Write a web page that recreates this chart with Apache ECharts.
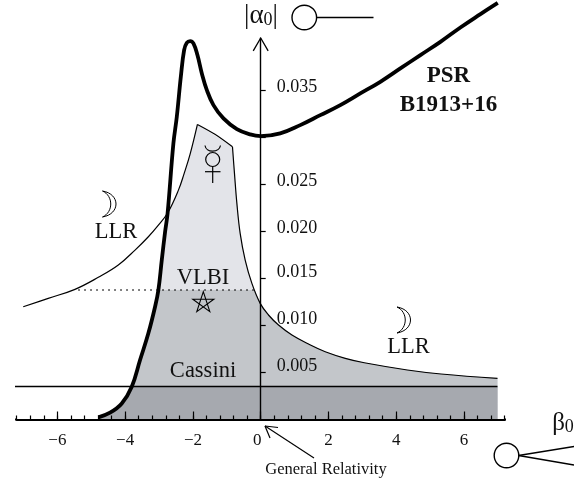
<!DOCTYPE html>
<html><head><meta charset="utf-8">
<style>html,body{margin:0;padding:0;background:#fff}#c{width:574px;height:487px}</style>
<script src="https://cdn.jsdelivr.net/npm/echarts@6/dist/echarts.min.js"></script>
</head><body><div id="c"></div>
<script>
const psrBeta =[-4.792,-4.446,-4.1,-3.805,-3.56,-3.315,-3.117,-3.019,-2.919,-2.821,-2.747,-2.576,-2.476,-2.357,-2.26,-2.18,-2.083,-1.985,-1.867,-1.737,-1.589,-1.394,-1.099,-0.703,-0.31,0,0.576,1.167,1.758,2.349,2.939,3.53,4.121,4.712,5.303,5.893,6.484,6.995];
const psrAlpha=[0.00023,0.00072,0.0017,0.00349,0.00633,0.00917,0.012,0.01378,0.01697,0.01998,0.02197,0.02938,0.03221,0.03647,0.03931,0.04009,0.04027,0.04002,0.03878,0.03683,0.03505,0.03346,0.03204,0.0309,0.03034,0.03016,0.03045,0.03133,0.03239,0.03346,0.0347,0.03594,0.03736,0.03878,0.04019,0.04172,0.04314,0.04434];
const llrLeftBeta =[-7.007,-6.269,-5.48,-4.792,-4.201,-3.708,-3.315,-3.019,-2.747,-2.428,-2.26,-2.083,-1.867];
const llrLeftAlpha=[0.012,0.01289,0.01385,0.01513,0.01644,0.01803,0.01945,0.02069,0.02197,0.02441,0.02617,0.02824,0.0314];
const topBeta =[-1.867,-1.35,-0.833];
const topAlpha=[0.0314,0.03035,0.02902];
const llrRightBeta =[-0.833,-0.774,-0.703,-0.606,-0.458,-0.26,-0.015,0.23,0.526,0.922,1.412,1.905,2.496,3.058,4.328,5.323,6.987];
const llrRightAlpha=[0.02902,0.02619,0.023,0.01981,0.01697,0.01449,0.01236,0.01112,0.01005,0.00899,0.00803,0.00721,0.00651,0.00604,0.00527,0.00484,0.00438];
const vlbiLimit=0.01378, cassiniLimit=0.00351;
const vlbiBeta=[-5.39,-0.2], cassiniBeta=[-7.35,6.987], edgeBeta=6.987;
const xMajor=[-6,-4,-2,0,2,4,6];
const yTicks=[0.005,0.01,0.015,0.02,0.025,0.03,0.035];
const yLabels=[0.005,0.01,0.015,0.02,0.025,0.035];

const zip=(a,b)=>a.map((v,i)=>[v,b[i]]);
const crossing=psrBeta.indexOf(-2.747);
const llrCross=llrLeftBeta.indexOf(-2.747);
const outline=[...zip(psrBeta,psrAlpha).slice(0,crossing+1),...zip(llrLeftBeta,llrLeftAlpha).slice(llrCross+1),...zip(llrRightBeta,llrRightAlpha),[edgeBeta,0],[psrBeta[0],0]];
function below(poly,level){
  const out=[];
  poly.forEach((p,i)=>{
    const q=poly[(i+1)%poly.length];
    if(p[1]<=level) out.push(p);
    if((p[1]<=level)!==(q[1]<=level)){
      const t=(level-p[1])/(q[1]-p[1]);
      out.push([p[0]+t*(q[0]-p[0]),level]);
    }
  });
  return out;
}
const region=(poly,fill)=>({type:'custom',coordinateSystem:'cartesian2d',z:1,silent:true,clip:false,data:[[0,0]],
  renderItem:(p,api)=>({type:'polygon',shape:{points:poly.map(v=>api.coord(v))},style:{fill:fill}})});
const line=(data,width,extra)=>Object.assign({type:'line',data:data,symbol:'none',clip:false,silent:true,z:4,
  lineStyle:{color:'#000',width:width},animation:false},extra||{});
const serif='"Liberation Serif","Times New Roman",serif';

const chart=echarts.init(document.getElementById('c'),null,{renderer:'canvas'});
const Z=20;
const txt=(x,y,text,size,extra)=>({type:'text',z:Z,x:x,y:y,style:Object.assign({text:text,fill:'#111',font:size+'px '+serif,align:'center',verticalAlign:'middle'},extra||{})});
const stroke=(w)=>({stroke:'#000',lineWidth:w,fill:'none'});
const seg=(x1,y1,x2,y2,w)=>({type:'line',z:Z,shape:{x1,y1,x2,y2},style:stroke(w||1.3)});
const moon=(x,y)=>({type:'group',x:x,y:y,z:Z,children:[
  {type:'bezierCurve',z:Z,shape:{x1:0,y1:0,cpx1:18,cpy1:3,cpx2:18,cpy2:23,x2:0,y2:26},style:stroke(1)},
  {type:'bezierCurve',z:Z,shape:{x1:0,y1:0,cpx1:11,cpy1:5,cpx2:11,cpy2:21,x2:0,y2:26},style:stroke(1)}
]});
chart.setOption({
  animation:false,
  grid:{left:16.7,right:69.3,top:38,bottom:67.5},
  xAxis:[
   {type:'value',min:-7.2,max:7.2,interval:0.4,z:3,splitLine:{show:false},
    axisLine:{onZero:true,lineStyle:{color:'#000',width:1.8}},
    axisTick:{inside:true,length:4,lineStyle:{color:'#000',width:1.2}},
    axisLabel:{customValues:xMajor,margin:13,color:'#111',fontFamily:serif,fontSize:17,
      formatter:v=>v===0?'{z|0}':(v<0?'\u2212'+(-v):''+v),
      rich:{z:{fontFamily:serif,fontSize:17,color:'#111',padding:[0,7,0,0]}}}},
   {type:'value',min:-7.2,max:7.2,interval:0.4,z:3,position:'bottom',splitLine:{show:false},
    axisLine:{show:false},axisLabel:{show:false},
    axisTick:{inside:true,length:8,customValues:xMajor,lineStyle:{color:'#000',width:1.2}}}
  ],
  yAxis:{type:'value',min:0,max:0.0406,interval:0.005,z:3,splitLine:{show:false},
    axisLine:{onZero:true,lineStyle:{color:'#000',width:1.4}},
    axisTick:{inside:true,length:5,customValues:yTicks,lineStyle:{color:'#000',width:1.2}},
    axisLabel:{inside:true,margin:260,customValues:yLabels,
      formatter:v=>(v<=0.015?'{l|':'{h|')+v.toFixed(3)+'}',
      rich:{l:{fontFamily:serif,fontSize:18,color:'#111',padding:[0,0,12,0]},
            h:{fontFamily:serif,fontSize:18,color:'#111',padding:[0,0,6,0]}}}},
  series:[
    region(outline,'#e3e4e9'),
    region(below(outline,vlbiLimit),'#c3c6ca'),
    region(below(outline,cassiniLimit),'#a6a9af'),
    line(zip(llrLeftBeta,llrLeftAlpha),1.2,{smooth:0.4}),
    line(zip(topBeta,topAlpha),1.2,{smooth:0.3}),
    line(zip(llrRightBeta,llrRightAlpha),1.2,{smooth:0.4}),
    line(vlbiBeta.map(b=>[b,vlbiLimit]),1.2,{lineStyle:{color:'#000',width:1.2,type:[2,4]}}),
    line(cassiniBeta.map(b=>[b,cassiniLimit]),1.5),
    line([[-7.35,0],[-7.2,0]],1.8),
    line([[7.2,0],[7.65,0]],1.8),
    line([[7.65,0],[8.12,0]],1.2),
    line([[7.72,0.00085],[8.13,0],[7.72,-0.00085]],1.3),
    line([[-0.22,0.03923],[0,0.0406],[0.22,0.03923]],1.3),
    line(zip(psrBeta,psrAlpha),3.8,{z:6,smooth:0.4})
  ],
  graphic:{elements:[
    txt(261,16,'{a||\u03b1}{s|0}{a||}',24,{rich:{a:{font:'27px '+serif,fill:'#111'},s:{font:'18px '+serif,fill:'#111',padding:[9,0,0,0]}}}),
    {type:'circle',z:Z,shape:{cx:304.3,cy:17.5,r:12.3},style:stroke(1.4)},
    seg(316.5,17.5,373.5,17.5),
    txt(563,423,'{a|\u03b2}{s|0}',24,{rich:{a:{font:'25px '+serif,fill:'#111'},s:{font:'18px '+serif,fill:'#111',padding:[9,0,0,0]}}}),
    {type:'circle',z:Z,shape:{cx:506.5,cy:455.5,r:12.3},style:stroke(1.4)},
    seg(518.5,455.5,574,446.5), seg(518.5,455.5,574,465),
    txt(448.5,76,'PSR',23,{font:'bold 23px '+serif}),
    txt(448.5,105,'B1913+16',23,{font:'bold 23px '+serif}),
    txt(116,232,'LLR',22.5), txt(408.5,347,'LLR',22.5),
    txt(203,278,'VLBI',22.5), txt(203,371,'Cassini',22.5),
    txt(326,470,'General Relativity',16.5),
    moon(102.5,191), moon(397,307),
    {type:'polygon',z:Z,shape:{points:[[203.3,291.7],[209.8,311.6],[192.8,299.3],[213.8,299.3],[196.8,311.6]]},style:stroke(1.1)},
    {type:'circle',z:Z,shape:{cx:212.7,cy:159.5,r:7},style:stroke(1.2)},
    {type:'bezierCurve',z:Z,shape:{x1:205,y1:145.5,cpx1:206,cpy1:153,cpx2:219,cpy2:153,x2:220.5,y2:145.5},style:stroke(1.2)},
    seg(212.7,166.5,212.7,183,1.2), seg(205,171.7,220.5,171.7,1.2),
    seg(265,426,314,458,1.2), seg(265,426,278,427.5,1.2), seg(265,426,270,438,1.2)
  ]}
});
</script></body></html>
